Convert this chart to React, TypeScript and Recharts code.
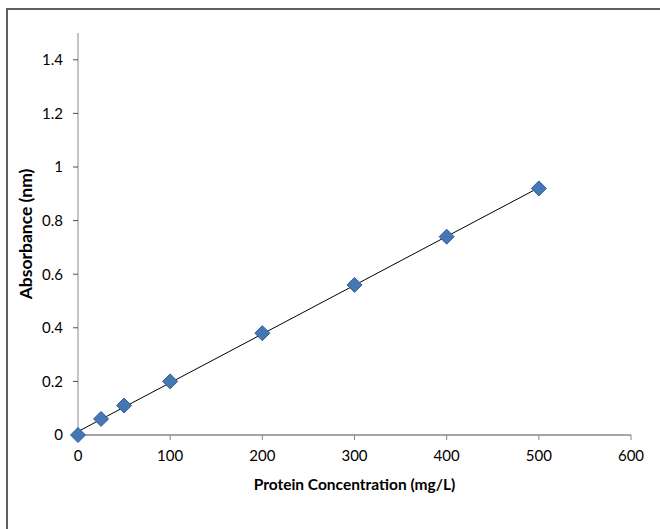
import React from "react";
import {
  ScatterChart,
  Scatter,
  XAxis,
  YAxis,
  ReferenceLine,
} from "recharts";

// protein standard curve readings
const concentrations = [0, 25, 50, 100, 200, 300, 400, 500];
const absorbances = [0, 0.06, 0.11, 0.2, 0.38, 0.56, 0.74, 0.92];
const xTicks = [0, 100, 200, 300, 400, 500, 600];
const yTicks = [0, 0.2, 0.4, 0.6, 0.8, 1, 1.2, 1.4];

const points = concentrations.map((x, i) => ({ x, y: absorbances[i] }));

// least-squares trendline through the points
const n = points.length;
const mx = concentrations.reduce((a, b) => a + b, 0) / n;
const my = absorbances.reduce((a, b) => a + b, 0) / n;
let sxy = 0;
let sxx = 0;
points.forEach((p) => {
  sxy += (p.x - mx) * (p.y - my);
  sxx += (p.x - mx) * (p.x - mx);
});
const slope = sxy / sxx;
const intercept = my - slope * mx;
const xMin = Math.min(...concentrations);
const xMax = Math.max(...concentrations);

const font = "Lato, 'Open Sans', sans-serif";

const Diamond = (props: any) => {
  const { cx, cy } = props;
  if (cx == null || cy == null) return null;
  const r = 7.5;
  return (
    <polygon
      points={`${cx},${cy - r} ${cx + r},${cy} ${cx},${cy + r} ${cx - r},${cy}`}
      fill="#4677b5"
      stroke="#2f5f98"
      strokeWidth={1}
    />
  );
};

export default function App() {
  return (
    <div
      style={{
        position: "absolute",
        left: 0,
        top: 0,
        width: 660,
        height: 529,
        overflow: "hidden",
        background: "#fff",
      }}
    >
      <div
        style={{
          position: "absolute",
          left: 6,
          top: 8,
          width: 720,
          height: 600,
          border: "2px solid #5f5f5f",
        }}
      />
      <div style={{ position: "absolute", left: 0, top: 0 }}>
        <ScatterChart
          width={660}
          height={529}
          margin={{ top: 33, right: 29, bottom: 34, left: 0 }}
        >
          <XAxis
            type="number"
            dataKey="x"
            domain={[0, 600]}
            ticks={xTicks}
            tickSize={5}
            tickMargin={10}
            height={60}
            axisLine={{ stroke: "#4d4d4d" }}
            tickLine={{ stroke: "#868686" }}
            tick={{ fill: "#000", fontSize: 15, fontFamily: font }}
            label={{
              value: "Protein Concentration (mg/L)",
              position: "insideBottom",
              offset: 5,
              style: { fontWeight: 700, fontSize: 15.5, fill: "#000", fontFamily: font },
            }}
          />
          <YAxis
            type="number"
            dataKey="y"
            domain={[0, 1.5]}
            ticks={yTicks}
            tickSize={5}
            tickMargin={10}
            width={78}
            axisLine={{ stroke: "#8a8a8a" }}
            tickLine={{ stroke: "#4d4d4d" }}
            tick={{ fill: "#000", fontSize: 15, fontFamily: font }}
            label={{
              value: "Absorbance (nm)",
              angle: -90,
              position: "insideLeft",
              offset: 26,
              textAnchor: "middle",
              style: { fontWeight: 700, fontSize: 17.5, fill: "#000", fontFamily: font, textAnchor: "middle" },
            }}
          />
          <Scatter data={points} shape={Diamond} isAnimationActive={false} />
          <ReferenceLine
            segment={[
              { x: xMin, y: intercept + slope * xMin },
              { x: xMax, y: intercept + slope * xMax },
            ]}
            stroke="#000"
            strokeWidth={1}
          />
        </ScatterChart>
      </div>
    </div>
  );
}
